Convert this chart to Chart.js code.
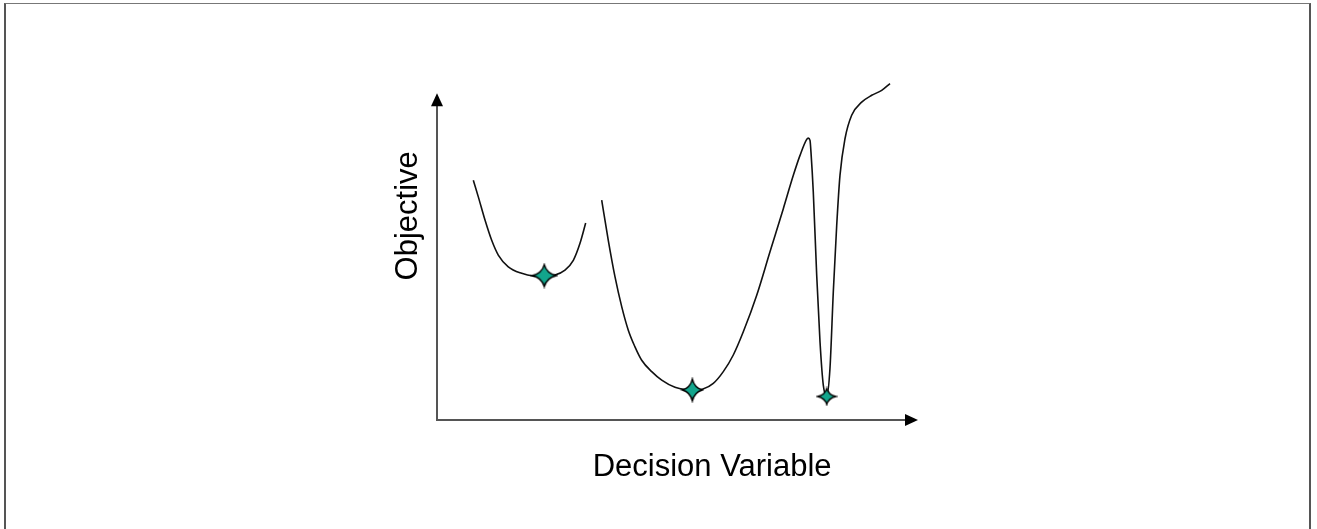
<!DOCTYPE html>
<html>
<head>
<meta charset="utf-8">
<script src="https://cdn.jsdelivr.net/npm/chart.js@4.4.1/dist/chart.umd.min.js"></script>
<style>
  html, body { margin: 0; padding: 0; background: #fff; overflow: hidden; }
  #wrap { position: relative; width: 1317px; height: 529px; }
  #frame { position: absolute; left: 4px; top: 3px; width: 1307px; height: 600px; border: 2px solid #555; border-top: 1px solid #777; box-sizing: border-box; }
  canvas { position: absolute; left: 0; top: 0; }
</style>
</head>
<body>
<div id="wrap">
  <canvas id="grafico" width="1317" height="529"></canvas>
  <div id="frame"></div>
</div>
<script>
// left basin
const tramoA_x = [0.755, 0.859, 0.998, 1.137, 1.274, 1.482, 1.761, 2.00, 2.231, 2.453, 2.661, 2.834, 2.973, 3.091];
const tramoA_y = [7.34, 6.83, 6.12, 5.50, 5.05, 4.69, 4.49, 4.41, 4.40, 4.44, 4.59, 4.89, 5.41, 6.03];

// wide basin, peak, narrow well
const tramoB_x = [3.424, 3.561, 3.701, 3.840, 3.977, 4.116, 4.256, 4.464, 4.672, 4.948, 5.156, 5.308, 5.53, 5.744, 5.952, 6.160, 6.368, 6.647, 6.923, 7.200, 7.408, 7.547, 7.686, 7.719, 7.755, 7.775, 7.823, 7.894, 7.963, 8.031, 8.102, 8.170, 8.239, 8.310, 8.378, 8.482, 8.621, 8.829, 9.037, 9.245, 9.418];
const tramoB_y = [6.73, 5.50, 4.38, 3.47, 2.75, 2.24, 1.83, 1.48, 1.22, 1.00, 0.93, 0.92, 0.95, 1.12, 1.48, 1.99, 2.70, 3.82, 5.15, 6.47, 7.49, 8.10, 8.59, 8.63, 8.56, 8.20, 6.98, 4.43, 2.39, 1.07, 0.74, 1.58, 3.92, 5.96, 7.49, 8.61, 9.33, 9.73, 9.94, 10.09, 10.30];

// local minima (stars)
const minimos_x = [2.231, 5.308, 8.102];
const minimos_y = [4.42, 0.92, 0.72];

const ejeX = "Decision Variable";
const ejeY = "Objective";

function estrella(w, h) {
    const c = document.createElement("canvas");
    c.width = w + 4; c.height = h + 4;
    const g = c.getContext("2d");
    const cx = c.width / 2, cy = c.height / 2;
    const rx = w / 2, ry = h / 2, k = 0.2;
    g.beginPath();
    g.moveTo(cx, cy - ry);
    g.quadraticCurveTo(cx + rx * k, cy - ry * k, cx + rx, cy);
    g.quadraticCurveTo(cx + rx * k, cy + ry * k, cx, cy + ry);
    g.quadraticCurveTo(cx - rx * k, cy + ry * k, cx - rx, cy);
    g.quadraticCurveTo(cx - rx * k, cy - ry * k, cx, cy - ry);
    g.closePath();
    g.fillStyle = "#12a58c";
    g.fill();
    g.lineWidth = 1.3;
    g.strokeStyle = "#000";
    g.stroke();
    return c;
}

const estrellas = [estrella(24, 22), estrella(20, 22), estrella(18, 16)];

const pares = (xs, ys) => xs.map((x, i) => ({ x: x, y: ys[i] }));

// axes with arrows and axis labels
const ejes = {
    id: "ejes",
    afterDraw(chart) {
        const ctx = chart.ctx;
        const sx = chart.scales.x, sy = chart.scales.y;
        const x0 = sx.getPixelForValue(0), y0 = sy.getPixelForValue(0);
        const xf = sx.getPixelForValue(10), yf = sy.getPixelForValue(10);
        ctx.save();
        ctx.strokeStyle = "#555";
        ctx.lineWidth = 2;
        ctx.beginPath();
        ctx.moveTo(x0, yf + 10);
        ctx.lineTo(x0, y0);
        ctx.lineTo(xf - 10, y0);
        ctx.stroke();
        ctx.fillStyle = "#000";
        ctx.beginPath();
        ctx.moveTo(x0, yf);
        ctx.lineTo(x0 - 6, yf + 13);
        ctx.lineTo(x0 + 6, yf + 13);
        ctx.closePath();
        ctx.fill();
        ctx.beginPath();
        ctx.moveTo(xf, y0);
        ctx.lineTo(xf - 13, y0 - 6);
        ctx.lineTo(xf - 13, y0 + 6);
        ctx.closePath();
        ctx.fill();

        ctx.font = "31px 'Liberation Sans', Arial, sans-serif";
        ctx.fillStyle = "#000";
        ctx.textAlign = "center";
        ctx.textBaseline = "alphabetic";
        ctx.fillText(ejeX, sx.getPixelForValue(5.72), y0 + 56);
        ctx.translate(x0 - 20, sy.getPixelForValue(6.25));
        ctx.rotate(-Math.PI / 2);
        ctx.fillText(ejeY, 0, 0);
        ctx.restore();
    }
};

new Chart(document.getElementById("grafico").getContext("2d"), {
    type: "line",
    data: {
        datasets: [
            {
                data: pares(tramoA_x, tramoA_y),
                borderColor: "#111",
                borderWidth: 1.6,
                pointRadius: 0,
                cubicInterpolationMode: "monotone",
                fill: false,
                order: 2
            },
            {
                data: pares(tramoB_x, tramoB_y),
                borderColor: "#111",
                borderWidth: 1.6,
                pointRadius: 0,
                cubicInterpolationMode: "monotone",
                fill: false,
                order: 2
            },
            {
                type: "scatter",
                data: pares(minimos_x, minimos_y),
                pointStyle: estrellas,
                pointRadius: 11,
                showLine: false,
                order: 1
            }
        ]
    },
    options: {
        responsive: false,
        animation: false,
        devicePixelRatio: 1,
        layout: { padding: { left: 437, right: 399, top: 28, bottom: 109 } },
        scales: {
            x: { type: "linear", min: 0, max: 10, display: false },
            y: { type: "linear", min: 0, max: 12, display: false }
        },
        plugins: {
            legend: { display: false },
            tooltip: { enabled: false }
        }
    },
    plugins: [ejes]
});
</script>
</body>
</html>
